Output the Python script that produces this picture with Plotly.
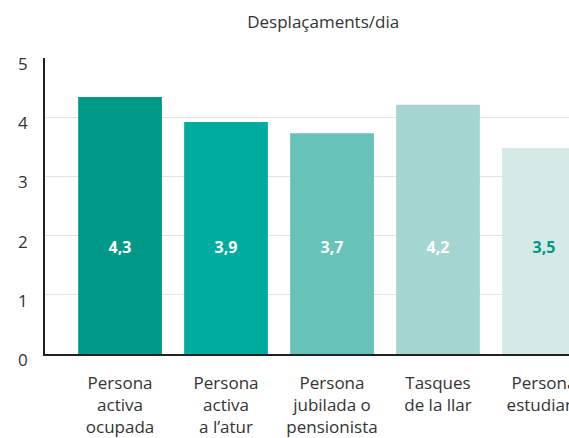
import plotly.graph_objects as go

categories = ["Persona<br>activa<br>ocupada", "Persona<br>activa<br>a l’atur",
              "Persona<br>jubilada o<br>pensionista", "Tasques<br>de la llar",
              "Persona<br>estudiant"]
values = [4.34, 3.92, 3.73, 4.21, 3.48]
labels = ["4,3", "3,9", "3,7", "4,2", "3,5"]
bar_colors = ["#009887", "#00ABA0", "#67C2B8", "#A5D5D0", "#D5E9E7"]
label_colors = ["#FFFFFF", "#FFFFFF", "#FFFFFF", "#FFFFFF", "#009887"]
label_y = [1.78] * 5
y_ticks = [0, 1, 2, 3, 4, 5]

FONT = "Open Sans"

fig = go.Figure()
fig.add_trace(go.Bar(x=categories, y=values, marker=dict(color=bar_colors, line=dict(width=0)),
                     hoverinfo="skip"))
fig.add_trace(go.Scatter(x=categories, y=label_y, mode="text", text=labels,
                         textfont=dict(family=FONT, size=16, color=label_colors, weight="bold"),
                         hoverinfo="skip", cliponaxis=False))

fig.update_layout(
    template="none",
    width=569, height=438,
    margin=dict(l=45, r=0, t=58, b=84, pad=0),
    paper_bgcolor="white", plot_bgcolor="white",
    showlegend=False, bargap=0.21,
    font=dict(family=FONT, color="#333333"),
    title=dict(text="Desplaçaments/dia", x=0.568, xanchor="center", y=0.95, yanchor="middle",
               font=dict(family=FONT, size=17, color="#333333")),
)
fig.update_xaxes(range=[-0.708, 4.236], showgrid=False, showline=True, linecolor="#222222",
                 linewidth=1.5, ticks="", tickfont=dict(size=17, color="#333333"),
                 ticklabelstandoff=13, fixedrange=True, automargin=False, zeroline=False)
fig.update_yaxes(range=[0, 5], tickvals=y_ticks, showgrid=True, gridcolor="#E3E3E3",
                 gridwidth=1, showline=True, linecolor="#222222", linewidth=1.5, ticks="",
                 tickfont=dict(size=17, color="#333333"), ticklabelstandoff=12,
                 ticklabelshift=6,
                 zeroline=False, fixedrange=True, automargin=False)

fig.write_html("out.html", config={"displayModeBar": False},
               post_script="document.body.style.margin='0';document.body.style.overflow='hidden';")
